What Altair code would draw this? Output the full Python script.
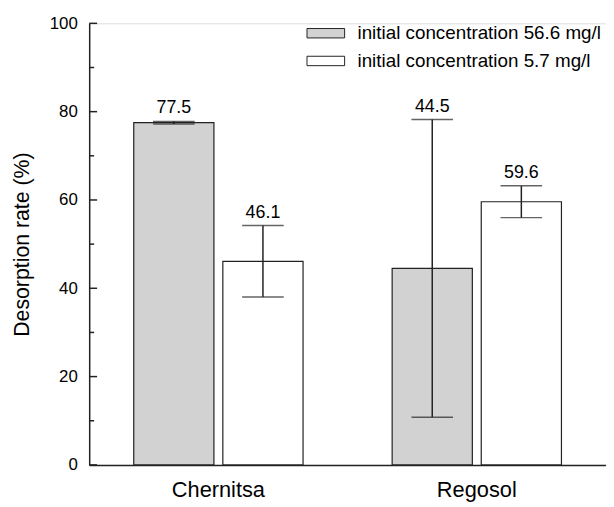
import altair as alt
import pandas as pd

soils = ["Chernitsa", "Chernitsa", "Regosol", "Regosol"]
series = [
    "initial concentration 56.6 mg/l",
    "initial concentration 5.7 mg/l",
    "initial concentration 56.6 mg/l",
    "initial concentration 5.7 mg/l",
]
means = [77.5, 46.1, 44.5, 59.6]
errors = [0.3, 8.1, 33.7, 3.6]

series_order = ["initial concentration 56.6 mg/l", "initial concentration 5.7 mg/l"]
fills = ["#d2d2d2", "#ffffff"]
major_ticks = [0, 20, 40, 60, 80, 100]
minor_ticks = [10, 30, 50, 70, 90]

df = pd.DataFrame({"soil": soils, "series": series, "mean": means, "err": errors})
df["lo"] = df["mean"] - df["err"]
df["hi"] = df["mean"] + df["err"]

FONT = "Liberation Sans"
INK = "#222222"

x = alt.X("soil:N", sort=["Chernitsa", "Regosol"],
          scale=alt.Scale(paddingInner=0, paddingOuter=0),
          axis=alt.Axis(title=None, ticks=False, labelAngle=0, labelFontSize=22,
                        labelPadding=15, labelColor="black", labelFont=FONT,
                        domainColor=INK, domainWidth=1.5))
xo = alt.XOffset("series:N", sort=series_order,
                 scale=alt.Scale(paddingInner=0.1, paddingOuter=0.5))
yscale = alt.Scale(domain=[0, 100], nice=False)

base = alt.Chart(df)

bars = base.mark_bar(stroke=INK, strokeWidth=1.2).encode(
    x=x,
    xOffset=xo,
    y=alt.Y("mean:Q", scale=yscale,
            axis=alt.Axis(title="Desorption rate (%)", values=major_ticks, ticks=False,
                          grid=False, labelFontSize=17, labelFont=FONT, labelColor="black",
                          labelPadding=12, titleFontSize=21.5, titleFont=FONT,
                          titleFontWeight="normal", titleColor="black", titlePadding=16,
                          domainColor=INK, domainWidth=1.5)),
    fill=alt.Fill("series:N", sort=series_order,
                  scale=alt.Scale(domain=series_order, range=fills),
                  legend=alt.Legend(title=None, orient="none", legendX=229, legendY=0,
                                    symbolType="M-2,-0.5L2,-0.5L2,0.5L-2,0.5Z",
                                    symbolSize=361, symbolStrokeColor=INK,
                                    symbolStrokeWidth=1, labelFontSize=19, labelFont=FONT,
                                    labelColor="black", labelOffset=22, rowPadding=8,
                                    labelLimit=0)),
)

err_rule = base.mark_rule(color=INK, strokeWidth=1.5).encode(
    x=x, xOffset=xo, y=alt.Y("lo:Q", scale=yscale), y2="hi:Q"
)
cap_hi = base.mark_tick(orient="horizontal", size=42, thickness=1.5, color=INK).encode(
    x=x, xOffset=xo, y=alt.Y("hi:Q", scale=yscale)
)
cap_lo = base.mark_tick(orient="horizontal", size=42, thickness=1.5, color=INK).encode(
    x=x, xOffset=xo, y=alt.Y("lo:Q", scale=yscale)
)
labels = base.mark_text(fontSize=18, font=FONT, color="black", dy=-13, baseline="middle").encode(
    x=x, xOffset=xo, y=alt.Y("hi:Q", scale=yscale), text=alt.Text("mean:Q", format=".1f")
)

major = alt.Chart(pd.DataFrame({"v": major_ticks})).mark_rule(color=INK, strokeWidth=1.5).encode(
    y=alt.Y("v:Q", scale=yscale), x=alt.value(0), x2=alt.value(8)
)
minor = alt.Chart(pd.DataFrame({"v": minor_ticks})).mark_rule(color=INK, strokeWidth=1.5).encode(
    y=alt.Y("v:Q", scale=yscale), x=alt.value(0), x2=alt.value(5)
)

chart = alt.layer(bars, err_rule, cap_hi, cap_lo, labels, major, minor).properties(
    width=522, height=446,
    padding={"left": 82, "top": 13, "right": 0, "bottom": 38},
    autosize=alt.AutoSizeParams(type="none"),
).configure_view(stroke=None).configure(background="white")

chart.save("out.html", embed_options={"renderer": "svg", "actions": False})
